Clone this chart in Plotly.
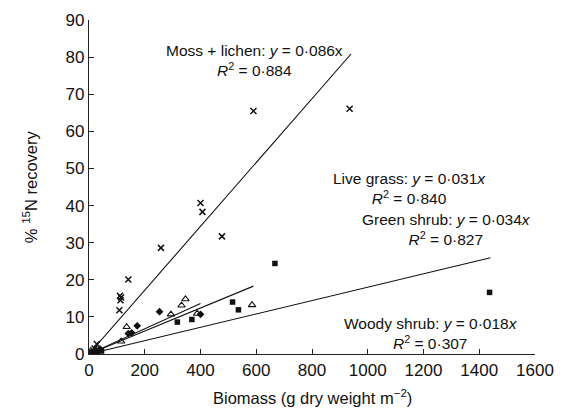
import plotly.graph_objects as go

# Biomass (g dry weight m-2) and % 15N recovery per functional group
moss_x = [5, 10, 15, 20, 28, 109, 111, 113, 115, 141, 258, 400, 407, 477, 590, 935]
moss_y = [0.3, 0.6, 1.0, 1.5, 2.7, 11.8, 15.7, 14.5, 15.2, 20.1, 28.6, 40.7, 38.3, 31.7, 65.5, 66.1]

grass_x = [5, 12, 20, 35, 115, 135, 294, 332, 346, 388, 585]
grass_y = [0.1, 0.3, 0.6, 1.0, 3.4, 7.3, 10.7, 13.1, 14.8, 10.9, 13.2]

green_x = [3, 8, 15, 25, 40, 141, 153, 173, 253, 400]
green_y = [0.1, 0.3, 0.5, 0.8, 1.3, 5.5, 5.7, 7.6, 11.4, 10.7]

woody_x = [10, 20, 30, 40, 45, 317, 369, 515, 536, 667, 1437]
woody_y = [0.2, 0.4, 0.6, 1.0, 0.8, 8.6, 9.3, 14.0, 11.9, 24.4, 16.6]

# Regression through origin: slope, R2, and extent of fitted line
groups = ["Moss + lichen", "Live grass", "Green shrub", "Woody shrub"]
slopes = [0.086, 0.031, 0.034, 0.018]
r2 = [0.884, 0.840, 0.827, 0.307]
fit_xmax = [940, 590, 400, 1440]

x_ticks = [0, 200, 400, 600, 800, 1000, 1200, 1400, 1600]
y_ticks = [0, 10, 20, 30, 40, 50, 60, 70, 80, 90]

FONT = "Liberation Sans, Arial, sans-serif"
INK = "#111111"

fig = go.Figure()

# fitted lines
for s, xm in zip(slopes, fit_xmax):
    fig.add_trace(go.Scatter(x=[0, xm], y=[0, s * xm], mode="lines",
                             line=dict(color=INK, width=1.1), showlegend=False,
                             hoverinfo="skip"))

series = [
    (woody_x, woody_y, "square", 5.5, 0),
    (green_x, green_y, "diamond", 6, 0),
    (grass_x, grass_y, "triangle-up-open", 6.5, 1.1),
    (moss_x, moss_y, "x-thin-open", 6, 1.5),
]
for xs, ys, sym, size, lw in series:
    fig.add_trace(go.Scatter(x=xs, y=ys, mode="markers", showlegend=False,
                             marker=dict(symbol=sym, size=size, color=INK,
                                         line=dict(color=INK, width=lw))))

labels = [
    ("Moss + lichen: <i>y</i> = 0·086x<br><i>R</i><sup>2</sup> = 0·884", 594, 79),
    ("Live grass: <i>y</i> = 0·031<i>x</i><br><i>R</i><sup>2</sup> = 0·840", 1151, 44.5),
    ("Green shrub: <i>y</i> = 0·034<i>x</i><br><i>R</i><sup>2</sup> = 0·827", 1283, 33.5),
    ("Woody shrub: <i>y</i> = 0·018<i>x</i><br><i>R</i><sup>2</sup> = 0·307", 1226, 5.5),
]
for txt, ax, ay in labels:
    fig.add_annotation(x=ax, y=ay, text=txt, showarrow=False, align="center",
                       font=dict(family=FONT, size=15.5, color=INK),
                       xanchor="center", yanchor="middle")

axis_common = dict(showgrid=False, zeroline=False, showline=True, linecolor="#222",
                   linewidth=1.2, ticks="inside", ticklen=5, tickcolor="#222",
                   automargin=False,
                   tickfont=dict(family=FONT, size=17, color=INK))

fig.update_xaxes(range=[0, 1600], tickvals=x_ticks, **axis_common)
fig.update_yaxes(range=[0, 90], tickvals=y_ticks, **axis_common)

# axis titles placed in paper space
fig.add_annotation(xref="paper", yref="paper", x=0.5, y=-0.129, yanchor="middle",
                   text="Biomass (g dry weight m<sup>−2</sup>)", showarrow=False,
                   font=dict(family=FONT, size=16.5, color=INK))
fig.add_annotation(xref="paper", yref="paper", x=-0.132, y=0.5, xanchor="center",
                   text="% <sup>15</sup>N recovery", showarrow=False, textangle=-90,
                   font=dict(family=FONT, size=16.5, color=INK))

fig.update_layout(width=570, height=410, margin=dict(l=89, r=35, t=20, b=56),
                  paper_bgcolor="white", plot_bgcolor="white")

fig.write_html("out.html")
